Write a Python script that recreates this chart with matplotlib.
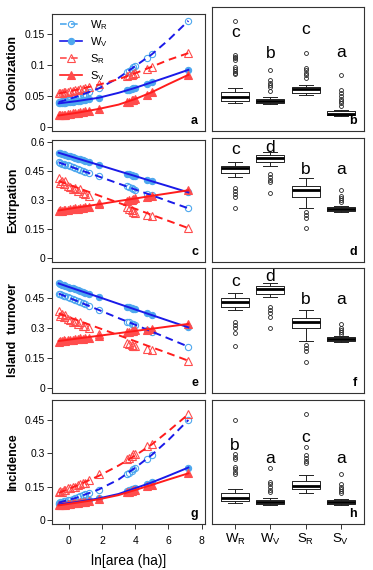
import matplotlib
matplotlib.use('Agg')
import matplotlib.pyplot as plt
from matplotlib.lines import Line2D

plt.rcParams['font.family'] = ['Liberation Sans', 'DejaVu Sans']
plt.rcParams['mathtext.fontset'] = 'custom'
plt.rcParams['mathtext.rm'] = 'Liberation Sans'

# ---------------- data ----------------
series = ['W_R', 'W_V', 'S_R', 'S_V']
series_labels = [r'W$_\mathregular{R}$', r'W$_\mathregular{V}$', r'S$_\mathregular{R}$', r'S$_\mathregular{V}$']

ln_area = [-0.6, -0.5, -0.4, -0.3, -0.2, -0.05, 0.1, 0.25, 0.4, 0.55, 0.7, 0.85, 1.0, 1.25,
           1.8, 3.5, 3.6, 3.8, 3.9, 4.0, 4.7, 5.0, 7.2]
fit_x = [-0.6, 0.5, 1.8, 3.0, 4.0, 5.0, 6.0, 7.2]

# Colonization
col_WR = [0.040, 0.0407, 0.0415, 0.0422, 0.043, 0.0442, 0.0455, 0.0468, 0.048, 0.0494, 0.0508, 0.0522,
          0.0537, 0.056, 0.062, 0.088, 0.090, 0.094, 0.096, 0.098, 0.111, 0.117, 0.171]
col_WV = [0.038, 0.0383, 0.0386, 0.039, 0.0393, 0.0398, 0.0403, 0.0409, 0.0414, 0.042, 0.0426, 0.0432,
          0.0438, 0.0448, 0.047, 0.059, 0.060, 0.0615, 0.0623, 0.063, 0.069, 0.072, 0.092]
col_SR = [0.054, 0.0552, 0.055, 0.0562, 0.0566, 0.057, 0.0585, 0.0582, 0.0598, 0.0602, 0.0615, 0.0618,
          0.0632, 0.0645, 0.069, 0.082, 0.083, 0.0845, 0.0855, 0.0865, 0.094, 0.097, 0.119]
col_SV = [0.0185, 0.0192, 0.0191, 0.0199, 0.0200, 0.0208, 0.0211, 0.0220, 0.0223, 0.0232, 0.0236, 0.0246,
          0.0250, 0.0265, 0.029, 0.040, 0.041, 0.043, 0.044, 0.045, 0.052, 0.056, 0.084]
col_WR_fit = [0.040, 0.049, 0.062, 0.079, 0.098, 0.117, 0.140, 0.171]
col_WV_fit = [0.038, 0.0417, 0.047, 0.055, 0.063, 0.072, 0.081, 0.092]
col_SR_fit = [0.054, 0.060, 0.068, 0.077, 0.0865, 0.097, 0.108, 0.119]
col_SV_fit = [0.0185, 0.0228, 0.029, 0.036, 0.045, 0.056, 0.069, 0.084]

# Extirpation
ext_WR = [0.495, 0.492, 0.489, 0.486, 0.483, 0.479, 0.474, 0.469, 0.464, 0.460, 0.455, 0.451,
          0.446, 0.438, 0.422, 0.370, 0.367, 0.361, 0.358, 0.354, 0.333, 0.324, 0.256]
ext_WV = [0.545, 0.542, 0.540, 0.537, 0.534, 0.530, 0.527, 0.523, 0.519, 0.515, 0.511, 0.507,
          0.503, 0.496, 0.482, 0.437, 0.434, 0.429, 0.426, 0.424, 0.405, 0.397, 0.339]
ext_SR = [0.412, 0.390, 0.400, 0.385, 0.398, 0.372, 0.365, 0.355, 0.360, 0.345, 0.355, 0.335,
          0.330, 0.320, 0.282, 0.262, 0.255, 0.245, 0.238, 0.232, 0.222, 0.218, 0.156]
ext_SV = [0.243, 0.246, 0.244, 0.248, 0.247, 0.250, 0.252, 0.251, 0.256, 0.255, 0.259, 0.258,
          0.262, 0.265, 0.279, 0.296, 0.299, 0.302, 0.305, 0.309, 0.314, 0.318, 0.350]
ext_WR_fit = [0.495, 0.461, 0.422, 0.385, 0.354, 0.324, 0.293, 0.256]
ext_WV_fit = [0.545, 0.516, 0.482, 0.450, 0.424, 0.397, 0.371, 0.339]
ext_SR_fit = [0.398, 0.364, 0.323, 0.285, 0.254, 0.222, 0.191, 0.153]
ext_SV_fit = [0.245, 0.260, 0.277, 0.294, 0.307, 0.321, 0.334, 0.350]

# Island turnover
tur_WR = [0.471, 0.468, 0.465, 0.461, 0.458, 0.453, 0.447, 0.442, 0.437, 0.432, 0.427, 0.422,
          0.417, 0.408, 0.390, 0.332, 0.329, 0.322, 0.319, 0.316, 0.292, 0.282, 0.207]
tur_WV = [0.521, 0.518, 0.515, 0.513, 0.510, 0.506, 0.501, 0.497, 0.493, 0.489, 0.485, 0.480,
          0.476, 0.469, 0.454, 0.406, 0.403, 0.398, 0.395, 0.392, 0.372, 0.364, 0.303]
tur_SR = [0.385, 0.360, 0.370, 0.355, 0.365, 0.345, 0.340, 0.330, 0.335, 0.320, 0.330, 0.310,
          0.308, 0.300, 0.270, 0.225, 0.222, 0.216, 0.212, 0.208, 0.193, 0.190, 0.137]
tur_SV = [0.232, 0.236, 0.234, 0.238, 0.236, 0.240, 0.241, 0.240, 0.245, 0.244, 0.248, 0.247,
          0.250, 0.252, 0.262, 0.278, 0.281, 0.284, 0.286, 0.289, 0.292, 0.296, 0.320]
tur_WR_fit = [0.471, 0.434, 0.390, 0.349, 0.316, 0.282, 0.248, 0.207]
tur_WV_fit = [0.521, 0.490, 0.454, 0.420, 0.392, 0.364, 0.336, 0.303]
tur_SR_fit = [0.372, 0.339, 0.300, 0.264, 0.234, 0.204, 0.174, 0.137]
tur_SV_fit = [0.235, 0.247, 0.261, 0.274, 0.285, 0.296, 0.307, 0.320]

# Incidence
inc_WR = [0.078, 0.080, 0.082, 0.084, 0.086, 0.089, 0.092, 0.096, 0.099, 0.103, 0.107, 0.111,
          0.115, 0.121, 0.137, 0.205, 0.210, 0.222, 0.228, 0.235, 0.275, 0.293, 0.450]
inc_WV = [0.070, 0.071, 0.072, 0.073, 0.074, 0.0755, 0.077, 0.0785, 0.080, 0.0815, 0.083, 0.0848,
          0.0865, 0.089, 0.097, 0.132, 0.134, 0.139, 0.141, 0.143, 0.161, 0.169, 0.236]
inc_SR = [0.124, 0.130, 0.128, 0.136, 0.134, 0.142, 0.145, 0.150, 0.148, 0.158, 0.160, 0.165,
          0.168, 0.178, 0.205, 0.275, 0.280, 0.290, 0.295, 0.298, 0.335, 0.340, 0.476]
inc_SV = [0.066, 0.068, 0.067, 0.070, 0.069, 0.072, 0.073, 0.075, 0.076, 0.078, 0.080, 0.081,
          0.083, 0.086, 0.093, 0.124, 0.126, 0.130, 0.133, 0.135, 0.151, 0.158, 0.210]
inc_WR_fit = [0.078, 0.101, 0.137, 0.182, 0.235, 0.293, 0.360, 0.450]
inc_WV_fit = [0.070, 0.081, 0.097, 0.117, 0.143, 0.169, 0.199, 0.236]
inc_SR_fit = [0.122, 0.155, 0.198, 0.245, 0.290, 0.340, 0.400, 0.476]
inc_SV_fit = [0.066, 0.078, 0.093, 0.112, 0.135, 0.158, 0.182, 0.210]

# Boxplot summaries (order W_R, W_V, S_R, S_V)
col_med = [0.0488, 0.042, 0.0607, 0.0217]
col_q1 = [0.0423, 0.039, 0.0553, 0.019]
col_q3 = [0.0569, 0.046, 0.0639, 0.0255]
col_lo = [0.039, 0.0368, 0.0515, 0.0173]
col_hi = [0.0623, 0.0477, 0.0677, 0.027]
col_fl = [[0.171, 0.116, 0.113, 0.111, 0.109, 0.0975, 0.094, 0.091, 0.088, 0.0856],
          [0.092, 0.0758, 0.0715, 0.0677, 0.0639, 0.0585],
          [0.119, 0.096, 0.092, 0.088, 0.084, 0.080],
          [0.084, 0.0596, 0.055, 0.050, 0.046, 0.042, 0.038, 0.034]]
col_let = ['c', 'b', 'c', 'a']
col_let_y = [0.152, 0.119, 0.158, 0.120]

ext_med = [0.464, 0.519, 0.351, 0.253]
ext_q1 = [0.438, 0.495, 0.317, 0.242]
ext_q3 = [0.4775, 0.533, 0.374, 0.265]
ext_lo = [0.417, 0.4775, 0.260, 0.239]
ext_hi = [0.495, 0.547, 0.415, 0.268]
ext_fl = [[0.360, 0.345, 0.330, 0.317, 0.256],
          [0.433, 0.419, 0.405, 0.391, 0.334],
          [0.236, 0.222, 0.208, 0.153],
          [0.351, 0.320, 0.310, 0.300, 0.290]]
ext_let = ['c', 'd', 'b', 'a']
ext_let_y = [0.559, 0.571, 0.455, 0.460]

tur_med = [0.430, 0.493, 0.328, 0.245]
tur_q1 = [0.405, 0.468, 0.298, 0.236]
tur_q3 = [0.450, 0.508, 0.351, 0.253]
tur_lo = [0.389, 0.452, 0.235, 0.231]
tur_hi = [0.472, 0.521, 0.389, 0.260]
tur_fl = [[0.331, 0.315, 0.298, 0.273, 0.212],
          [0.405, 0.389, 0.372, 0.356, 0.301],
          [0.215, 0.202, 0.185, 0.129],
          [0.318, 0.300, 0.290, 0.280, 0.270]]
tur_let = ['c', 'd', 'b', 'a']
tur_let_y = [0.530, 0.554, 0.439, 0.440]

inc_med = [0.1005, 0.0795, 0.1545, 0.0795]
inc_q1 = [0.0855, 0.0705, 0.138, 0.0705]
inc_q3 = [0.120, 0.090, 0.1755, 0.090]
inc_lo = [0.078, 0.0675, 0.120, 0.0675]
inc_hi = [0.1395, 0.0975, 0.2025, 0.0945]
inc_fl = [[0.450, 0.2955, 0.285, 0.2745, 0.240, 0.2295, 0.2175, 0.2055],
          [0.2355, 0.1725, 0.1605, 0.150, 0.135, 0.1245],
          [0.4755, 0.330, 0.2925, 0.2805, 0.267, 0.255],
          [0.207, 0.160, 0.1495, 0.139, 0.130, 0.120]]
inc_let = ['b', 'a', 'c', 'a']
inc_let_y = [0.3375, 0.2775, 0.372, 0.2775]

row_titles = ['Colonization', 'Extirpation', 'Island  turnover', 'Incidence']
left_letters = ['a', 'c', 'e', 'g']
right_letters = ['b', 'd', 'f', 'h']
left_yticks = [[0, 0.05, 0.1, 0.15], [0, 0.15, 0.3, 0.45, 0.6], [0, 0.15, 0.3, 0.45], [0, 0.15, 0.3, 0.45]]
left_yticklabels = [['0', '0.05', '0.1', '0.15'], ['0', '0.15', '0.3', '0.45', '0.6'],
                    ['0', '0.15', '0.3', '0.45'], ['0', '0.15', '0.3', '0.45']]
x_ticks = [0, 2, 4, 6, 8]

# ---------------- styles ----------------
PT_BLUE = '#4ea8ee'
LN_BLUE = '#1a1ae8'
PT_RED = '#ff4d4d'
LN_RED = '#ff1c1c'
FRAME = '#333333'
style = {
    'W_R': dict(marker='o', mfc='none', mec=PT_BLUE, ms=4.5, lc=LN_BLUE, ls=(0, (4, 2.6)), legc=PT_BLUE),
    'W_V': dict(marker='o', mfc=PT_BLUE, mec=PT_BLUE, ms=4.5, lc=LN_BLUE, ls='-', legc=LN_BLUE),
    'S_R': dict(marker='^', mfc='none', mec=PT_RED, ms=5.2, lc=LN_RED, ls=(0, (4, 2.6)), legc=PT_RED),
    'S_V': dict(marker='^', mfc=PT_RED, mec=PT_RED, ms=5.2, lc=LN_RED, ls='-', legc=LN_RED),
}

left_pts = [
    dict(W_R=col_WR, W_V=col_WV, S_R=col_SR, S_V=col_SV),
    dict(W_R=ext_WR, W_V=ext_WV, S_R=ext_SR, S_V=ext_SV),
    dict(W_R=tur_WR, W_V=tur_WV, S_R=tur_SR, S_V=tur_SV),
    dict(W_R=inc_WR, W_V=inc_WV, S_R=inc_SR, S_V=inc_SV),
]
left_fit = [
    dict(W_R=col_WR_fit, W_V=col_WV_fit, S_R=col_SR_fit, S_V=col_SV_fit),
    dict(W_R=ext_WR_fit, W_V=ext_WV_fit, S_R=ext_SR_fit, S_V=ext_SV_fit),
    dict(W_R=tur_WR_fit, W_V=tur_WV_fit, S_R=tur_SR_fit, S_V=tur_SV_fit),
    dict(W_R=inc_WR_fit, W_V=inc_WV_fit, S_R=inc_SR_fit, S_V=inc_SV_fit),
]
box_sets = [
    (col_med, col_q1, col_q3, col_lo, col_hi, col_fl, col_let, col_let_y),
    (ext_med, ext_q1, ext_q3, ext_lo, ext_hi, ext_fl, ext_let, ext_let_y),
    (tur_med, tur_q1, tur_q3, tur_lo, tur_hi, tur_fl, tur_let, tur_let_y),
    (inc_med, inc_q1, inc_q3, inc_lo, inc_hi, inc_fl, inc_let, inc_let_y),
]

# ---------------- layout (pixels) ----------------
W, H = 373, 570
fig = plt.figure(figsize=(W / 100, H / 100), dpi=100)
left_rows = [(14, 131), (139.5, 262), (268, 393), (400, 524)]
right_rows = [(7, 131), (138, 262), (268, 393), (400, 524)]
left_ylims = [(-0.0065, 0.182), (-0.023, 0.614), (-0.0233, 0.598), (-0.018, 0.54)]
right_ylims = [(-0.0065, 0.194), (-0.023, 0.621), (-0.0233, 0.598), (-0.018, 0.54)]
LX0, LX1 = 52, 205
RX0, RX1 = 212, 364


def px_axes(x0, x1, y0, y1):
    return fig.add_axes([x0 / W, 1 - y1 / H, (x1 - x0) / W, (y1 - y0) / H])


for r in range(4):
    # ---------- left panel ----------
    ax = px_axes(LX0, LX1, *left_rows[r])
    for s in series:
        st = style[s]
        ax.plot(ln_area, left_pts[r][s], ls='none', marker=st['marker'], mfc=st['mfc'],
                mec=st['mec'], ms=st['ms'], mew=0.8, zorder=2)
    for s in series:
        st = style[s]
        ax.plot(fit_x, left_fit[r][s], color=st['lc'], ls=st['ls'], lw=1.4, zorder=3)
    ax.set_xlim(-1.0, 8.2)
    ax.set_ylim(*left_ylims[r])
    ax.set_yticks(left_yticks[r])
    ax.set_yticklabels(left_yticklabels[r])
    ax.tick_params(axis='y', direction='out', length=3.5, width=0.7, labelsize=7.5, pad=1.5,
                   color=FRAME)
    if r == 3:
        ax.set_xticks(x_ticks)
        ax.set_xticklabels([str(v) for v in x_ticks])
        ax.tick_params(axis='x', direction='out', length=3.5, width=0.7, labelsize=7.5, pad=5,
                       color=FRAME)
        ax.set_xlabel('ln[area (ha)]', fontsize=10, labelpad=6)
    else:
        ax.tick_params(axis='x', bottom=False, labelbottom=False)
    for sp in ax.spines.values():
        sp.set_color(FRAME)
        sp.set_linewidth(0.8)
    ax.text(0.955, 0.035, left_letters[r], transform=ax.transAxes, ha='right', va='bottom',
            fontsize=9, fontweight='bold')
    cy = 1 - (left_rows[r][0] + left_rows[r][1]) / 2 / H
    fig.text(13 / W, cy, row_titles[r], rotation=90, ha='center', va='center',
             fontsize=9, fontweight='bold')
    if r == 0:
        handles = []
        for s in series:
            st = style[s]
            handles.append(Line2D([], [], color=st['legc'], ls=st['ls'], lw=1.2,
                                  marker=st['marker'], mfc=st['mfc'], mec=st['mec'],
                                  ms=st['ms'], mew=0.8))
        ax.legend(handles, series_labels, loc='upper left', bbox_to_anchor=(0.0, 1.03),
                  frameon=False, fontsize=8, handlelength=2.0, handletextpad=0.7,
                  labelspacing=0.28, borderaxespad=0.3, numpoints=1)

    # ---------- right panel ----------
    axr = px_axes(RX0, RX1, *right_rows[r])
    med, q1, q3, lo, hi, fl, let, let_y = box_sets[r]
    stats = []
    for i in range(4):
        stats.append(dict(med=med[i], q1=q1[i], q3=q3[i], whislo=lo[i], whishi=hi[i],
                          fliers=fl[i]))
    axr.bxp(stats, positions=[1, 2, 3, 4], widths=0.8, capwidths=0.4, showfliers=True,
            boxprops=dict(color='#222222', lw=0.7),
            medianprops=dict(color='black', lw=2.0),
            whiskerprops=dict(color='#222222', lw=0.7),
            capprops=dict(color='#222222', lw=0.7),
            flierprops=dict(marker='o', mfc='none', mec='#222222', ms=2.8, mew=0.6))
    for i in range(4):
        axr.text(i + 1, let_y[i], let[i], ha='center', va='center', fontsize=12.5)
    axr.set_xlim(0.34, 4.66)
    axr.set_ylim(*right_ylims[r])
    axr.set_yticks([])
    if r == 3:
        axr.set_xticks([1, 2, 3, 4])
        axr.set_xticklabels(series_labels, fontsize=9.5)
        axr.tick_params(axis='x', direction='out', length=3.5, width=0.7, pad=2.5, color=FRAME)
    else:
        axr.set_xticks([])
    for sp in axr.spines.values():
        sp.set_color(FRAME)
        sp.set_linewidth(0.8)
    axr.text(0.955, 0.035, right_letters[r], transform=axr.transAxes, ha='right', va='bottom',
             fontsize=9, fontweight='bold')

fig.savefig('out.png', dpi=100)
